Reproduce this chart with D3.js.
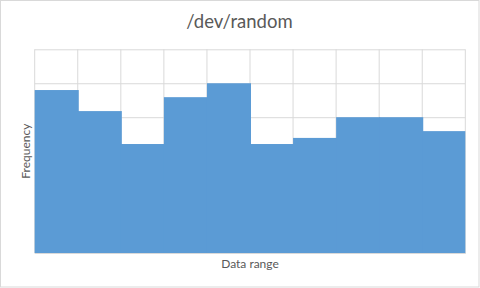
<!DOCTYPE html>
<html><head><meta charset="utf-8">
<script src="https://cdn.jsdelivr.net/npm/d3@7"></script>
<style>html,body{margin:0;padding:0;background:#fff;}svg{display:block;}</style>
</head><body>
<script>
const bins = ["1","2","3","4","5","6","7","8","9","10"];
const frequency = [480, 418, 321, 459, 500, 321, 339, 400, 400, 359];
const yTicks = [0, 100, 200, 300, 400, 500, 600];
const title = "/dev/random";
const xTitle = "Data range";
const yTitle = "Frequency";

const W = 480, H = 288;
const m = {left: 34.7, right: 480 - 465.3, top: 49.3, bottom: 288 - 253};
const svg = d3.select("body").append("svg").attr("width", W).attr("height", H);
svg.append("rect").attr("x",0.5).attr("y",0.5).attr("width",W-1.5).attr("height",H-1.5)
  .attr("fill","#fff").attr("stroke","#d9d9d9");

const x = d3.scaleBand().domain(bins).range([m.left, W - m.right]).padding(0);
const y = d3.scaleLinear().domain([0, 600]).range([H - m.bottom, m.top]);

const g = svg.append("g");
// horizontal gridlines
g.append("g").attr("transform", `translate(${m.left},0)`)
  .call(d3.axisLeft(y).tickValues(yTicks).tickSize(-(W - m.left - m.right)).tickFormat(""))
  .call(s => s.select(".domain").remove())
  .call(s => s.selectAll("line").attr("stroke","#d9d9d9").attr("stroke-width",1));
// vertical gridlines at bin boundaries
const bounds = bins.map(b => x(b)).concat([x(bins[bins.length-1]) + x.bandwidth()]);
g.selectAll(".vg").data(bounds).join("line")
  .attr("x1", d => d).attr("x2", d => d)
  .attr("y1", m.top).attr("y2", H - m.bottom)
  .attr("stroke","#d9d9d9");

// bars
const last = bins.length - 1;
g.selectAll(".bar").data(frequency).join("rect")
  .attr("x", (d,i) => x(bins[i]))
  .attr("width", (d,i) => x.bandwidth() + (i < last ? 1 : 0))
  .attr("y", d => y(d))
  .attr("height", d => y(0) - y(d))
  .attr("fill", "#5b9bd5");

// bottom axis line
g.append("g").attr("transform", `translate(0,${H - m.bottom})`)
  .call(d3.axisBottom(x).tickSize(0).tickFormat(""))
  .call(s => s.select(".domain").attr("stroke","#d9d9d9"));

const font = "Lato, 'Open Sans', sans-serif";
svg.append("text").attr("x", 239.5).attr("y", 28).attr("text-anchor","middle")
  .attr("font-family", font).attr("font-size", 18.5).attr("fill","#595959").text(title);
svg.append("text").attr("x", (m.left + W - m.right)/2).attr("y", 268).attr("text-anchor","middle")
  .attr("font-family", font).attr("font-size", 12).attr("fill","#595959").text(xTitle);
svg.append("text").attr("transform", `translate(30,${(m.top + H - m.bottom)/2}) rotate(-90)`)
  .attr("text-anchor","middle")
  .attr("font-family", font).attr("font-size", 12).attr("fill","#595959").text(yTitle);
</script>
</body></html>
